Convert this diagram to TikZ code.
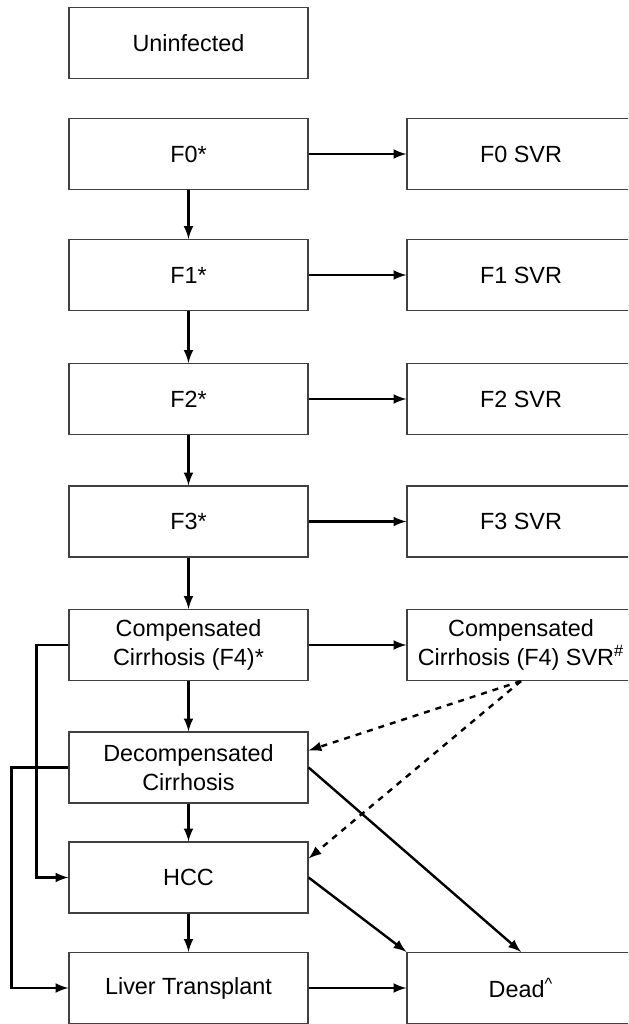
\documentclass[tikz,border=0pt]{standalone}
\usepackage{fontspec}
\setmainfont{Liberation Sans}
\usetikzlibrary{arrows}
\definecolor{boxline}{RGB}{64, 64, 64}

\begin{document}
\begin{tikzpicture}[x=0.5pt, y=-0.5pt,
        stage/.style={draw=boxline, line width=0.6pt, fill=white, minimum width=119.5pt,
                      minimum height=35.5pt, inner sep=0pt, align=center,
                      font=\fontsize{11.7}{14.5}\selectfont},
        link/.style={-latex, line width=1.2pt, black}]
            % Frame to fix the page
            \clip                                             (  0.0,   0.0) rectangle (628.0, 1024.0);
            % Left column
            \node[stage] (uninf)  at (188.5,   43.0) {Uninfected};
            \node[stage] (f0)     at (188.5,  154.0) {F0*};
            \node[stage] (f1)     at (188.5,  275.0) {F1*};
            \node[stage] (f2)     at (188.5,  399.0) {F2*};
            \node[stage] (f3)     at (188.5,  521.5) {F3*};
            \node[stage] (comp)   at (188.5,  645.0) {Compensated\\Cirrhosis (F4)*};
            \node[stage] (decomp) at (188.5,  767.5) {Decompensated\\Cirrhosis};
            \node[stage] (hcc)    at (188.5,  877.5) {HCC};
            \node[stage] (lt)     at (188.5,  988.0) {Liver Transplant};
            % Right column
            \node[stage, minimum width=114pt] (f0svr)   at (521.0,  154.0) {F0 SVR};
            \node[stage, minimum width=114pt] (f1svr)   at (521.0,  275.0) {F1 SVR};
            \node[stage, minimum width=114pt] (f2svr)   at (521.0,  399.0) {F2 SVR};
            \node[stage, minimum width=114pt] (f3svr)   at (521.0,  521.5) {F3 SVR};
            \node[stage, minimum width=114pt] (compsvr) at (521.0,  645.0) {Compensated\\Cirrhosis (F4) SVR\textsuperscript{\#}};
            \node[stage, minimum width=114pt] (dead)    at (521.0,  988.0) {Dead\textsuperscript{\textasciicircum}};
            % Progression
            \draw[link] (f0.south)     -- (f1.north);
            \draw[link] (f1.south)     -- (f2.north);
            \draw[link] (f2.south)     -- (f3.north);
            \draw[link] (f3.south)     -- (comp.north);
            \draw[link] (comp.south)   -- (decomp.north);
            \draw[link] (decomp.south) -- (hcc.north);
            \draw[link] (hcc.south)    -- (lt.north);
            % Treatment
            \draw[link] (f0.east)      -- (f0svr.west);
            \draw[link] (f1.east)      -- (f1svr.west);
            \draw[link] (f2.east)      -- (f2svr.west);
            \draw[link] (f3.east)      -- (f3svr.west);
            \draw[link] (comp.east)    -- (compsvr.west);
            % After SVR
            \draw[link, dashed] (compsvr.south) -- ([yshift=8.5pt]decomp.east);
            \draw[link, dashed] (compsvr.south) -- ([yshift=9.5pt]hcc.east);
            % Death
            \draw[link] (decomp.east)  -- (dead.north);
            \draw[link] (hcc.east)     -- (dead.north west);
            \draw[link] (lt.east)      -- (dead.west);
            % Side routes
            \draw[link] (comp.west)    -- ++(-32, 0) |- (hcc.west);
            \draw[link] (decomp.west)  -- ++(-57, 0) |- (lt.west);
\end{tikzpicture}
\end{document}
